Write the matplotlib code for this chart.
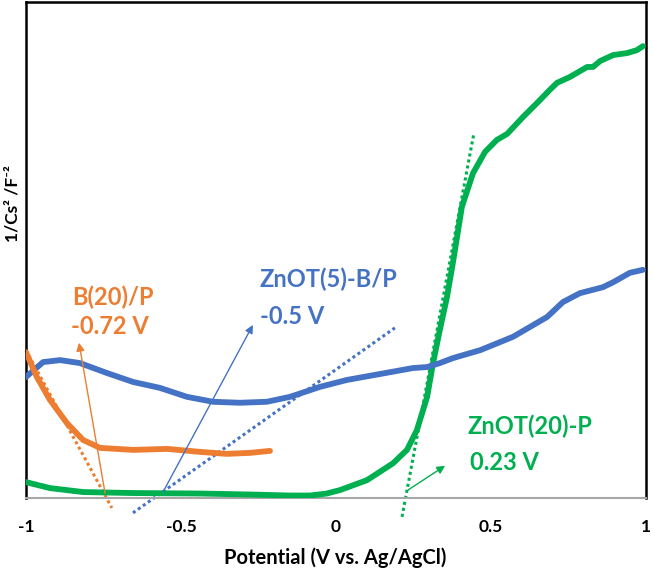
import matplotlib.pyplot as plt

plt.rcParams['font.family'] = ['Lato', 'DejaVu Sans']

# Mott-Schottky curves, x = potential (V vs Ag/AgCl), y = 1/Cs^2 (arbitrary, 0-100 of axis)
green_x = [-1.0, -0.923, -0.816, -0.655, -0.439, -0.277, -0.15, -0.084, -0.03, 0.013, 0.100,
           0.184, 0.229, 0.261, 0.294, 0.313, 0.335, 0.358, 0.377, 0.394, 0.406,
           0.442, 0.481, 0.519, 0.552, 0.603, 0.648, 0.690, 0.713, 0.755, 0.810,
           0.829, 0.852, 0.894, 0.939, 0.971, 0.990]
green_y = [3.2, 2.0, 1.2, 1.0, 0.9, 0.7, 0.5, 0.5, 0.9, 1.6, 3.6,
           7.0, 9.7, 13.7, 20.4, 27.2, 33.9, 40.5, 47.4, 54.0, 58.7,
           65.5, 69.8, 72.2, 73.4, 76.8, 79.6, 82.3, 83.7, 84.9, 86.9,
           86.9, 88.1, 89.3, 89.7, 90.3, 91.1]

blue_x = [-1.0, -0.945, -0.890, -0.826, -0.739, -0.655, -0.568, -0.481, -0.397, -0.310,
          -0.223, -0.148, -0.052, 0.035, 0.142, 0.248, 0.294, 0.335, 0.377, 0.465,
          0.571, 0.681, 0.732, 0.787, 0.861, 0.894, 0.948, 0.990]
blue_y = [24.4, 27.4, 27.8, 27.2, 25.2, 23.4, 22.2, 20.4, 19.4, 19.2,
          19.4, 20.4, 22.4, 23.8, 25.0, 26.2, 26.4, 27.2, 28.2, 29.8,
          32.5, 36.5, 39.5, 41.3, 42.5, 43.5, 45.4, 46.0]

orange_x = [-1.0, -0.965, -0.923, -0.868, -0.816, -0.761, -0.655, -0.545, -0.439, -0.352,
            -0.277, -0.213]
orange_y = [29.4, 24.4, 19.8, 15.1, 11.7, 10.1, 9.7, 9.9, 9.3, 8.9,
            9.1, 9.5]

# tangent (fit) lines
orange_fit_x = [-1.0, -0.723]
orange_fit_y = [29.8, -2.0]
blue_fit_x = [-0.655, 0.190]
blue_fit_y = [-3.0, 34.3]
green_fit_x = [0.213, 0.445]
green_fit_y = [-3.8, 73.6]

BLUE = '#4472C4'
ORANGE = '#ED7D31'
GREEN = '#00B050'

W, H = 653, 568
fig = plt.figure(figsize=(W / 100, H / 100), dpi=100)
ax = fig.add_axes([26 / W, 70 / H, 620 / W, 496 / H])

ax.plot(green_x, green_y, color=GREEN, lw=4.2, solid_capstyle='round',
        solid_joinstyle='round', zorder=3)
ax.plot(blue_x, blue_y, color=BLUE, lw=4.2, solid_capstyle='round',
        solid_joinstyle='round', zorder=3)
ax.plot(orange_x, orange_y, color=ORANGE, lw=4.2, solid_capstyle='round',
        solid_joinstyle='round', zorder=3)

for fx, fy, c in [(orange_fit_x, orange_fit_y, ORANGE),
                  (blue_fit_x, blue_fit_y, BLUE),
                  (green_fit_x, green_fit_y, GREEN)]:
    ax.plot(fx, fy, color=c, lw=2.2, ls=(0, (1, 1)), clip_on=False, zorder=2)

# arrows pointing from intercepts to labels
for (x0, y0, x1, y1, c) in [(-0.745, 1.0, -0.829, 31.3, ORANGE),
                            (-0.558, 1.2, -0.268, 34.9, BLUE),
                            (0.232, 1.6, 0.352, 6.5, GREEN)]:
    ax.annotate('', xy=(x1, y1), xytext=(x0, y0),
                arrowprops=dict(arrowstyle='-|>', color=c, lw=1.0,
                                mutation_scale=12, shrinkA=0, shrinkB=0))

# annotation labels placed in pixel coordinates (left edge, centre of line)
labels = [('B(20)/P', 72, 295, ORANGE), ('-0.72 V', 71, 325, ORANGE),
          ('ZnOT(5)-B/P', 260, 277, BLUE), ('-0.5 V', 260, 315, BLUE),
          ('ZnOT(20)-P', 467, 424, GREEN), ('0.23 V', 470, 460, GREEN)]
for txt, px, py, c in labels:
    fig.text(px / W, 1 - py / H, txt, color=c, fontsize=17, fontweight='bold',
             ha='left', va='center_baseline')

ax.set_xlim(-1, 1)
ax.set_ylim(0, 100)
ax.set_xticks([-1, -0.5, 0, 0.5, 1])
ax.set_xticklabels(['-1', '-0.5', '0', '0.5', '1'])
ax.set_yticks([])
ax.tick_params(axis='x', length=0, pad=15, labelsize=12.5)
for lab in ax.get_xticklabels():
    lab.set_fontweight('bold')

for side in ['left', 'top', 'right']:
    ax.spines[side].set_color('black')
    ax.spines[side].set_linewidth(1.8)
ax.spines['bottom'].set_color('#A6A6A6')
ax.spines['bottom'].set_linewidth(1.5)

fig.text(335 / W, 1 - 558 / H, 'Potential (V vs. Ag/AgCl)', fontsize=14.5,
         fontweight='bold', ha='center', va='center')
fig.text(12 / W, 1 - 204 / H, '1/Cs² /F⁻²', rotation=90, fontsize=12.5,
         fontweight='bold', ha='center', va='center')

fig.savefig('out.png', dpi=100)
